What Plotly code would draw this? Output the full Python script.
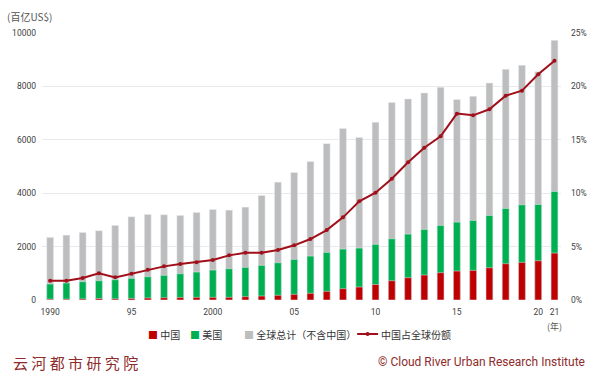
import plotly.graph_objects as go

years = list(range(1990, 2022))
# bar tops (百亿US$)
china = [30, 30, 40, 55, 45, 60, 75, 85, 90, 100,
         100, 100, 125, 150, 175, 212, 250, 324, 424, 486,
         580, 722, 834, 935, 1022, 1085, 1110, 1209, 1359, 1409,
         1471, 1758]
usa_top = [598, 636, 685, 722, 760, 810, 872, 922, 984, 1047,
           1122, 1172, 1222, 1297, 1396, 1521, 1645, 1783, 1907, 1945,
           2083, 2293, 2468, 2643, 2793, 2917, 2979, 3166, 3428, 3565,
           3577, 4065]
global_top = [2345, 2430, 2530, 2593, 2793, 3117, 3204, 3192, 3167, 3279,
              3390, 3366, 3478, 3914, 4413, 4775, 5185, 5855, 6420, 6085,
              6657, 7394, 7529, 7754, 7966, 7505, 7630, 8127, 8639, 8789,
              8552, 9724]
share = [1.81, 1.81, 2.06, 2.50, 2.12, 2.46, 2.84, 3.15, 3.37, 3.53,
         3.75, 4.18, 4.43, 4.43, 4.68, 5.12, 5.71, 6.55, 7.74, 9.24,
         10.05, 11.36, 12.89, 14.26, 15.33, 17.45, 17.29, 17.86, 19.13, 19.60,
         21.13, 22.40]
share = [s / 100 for s in share]

tick_years = [1990, 1995, 2000, 2005, 2010, 2015, 2020, 2021]
tick_text = ["1990", "95", "2000", "05", "10", "15", "20", "21"]
left_ticks = [0, 2000, 4000, 6000, 8000, 10000]
right_ticks = [0, 0.05, 0.10, 0.15, 0.20, 0.25]

num_font = "Roboto, Noto Sans CJK SC"
cjk_font = "Noto Sans CJK SC"
RED = "#C00000"
GREEN = "#00B050"
GRAY = "#BDBDBD"
LINE = "#A00F1A"
BW = 0.42

# plot area in pixels (for placing paper-referenced legend / notes)
L, R, T, B = 40, 562, 33, 300
def px(x):
    return (x - L) / (R - L)
def py(y):
    return (B - y) / (B - T)

fig = go.Figure()
fig.add_trace(go.Bar(x=years, y=global_top, name="全球总计（不含中国）", marker_color=GRAY,
                     width=BW, showlegend=False))
fig.add_trace(go.Bar(x=years, y=usa_top, name="美国", marker_color=GREEN,
                     width=BW, showlegend=False))
fig.add_trace(go.Bar(x=years, y=china, name="中国", marker_color=RED,
                     width=BW, showlegend=False))
fig.add_trace(go.Scatter(x=years, y=share, name="中国占全球份额", yaxis="y2",
                         mode="lines+markers", line=dict(color=LINE, width=2),
                         marker=dict(size=4, color=LINE), showlegend=False))

legend_items = [("中国", RED, 145), ("美国", GREEN, 187), ("全球总计（不含中国）", GRAY, 241)]
annotations = []
for name, col, x0 in legend_items:
    annotations.append(dict(
        text=f"<span style='color:{col}'>■</span> {name}", xref="paper", yref="paper",
        x=px(x0), y=py(334), xanchor="left", yanchor="middle", showarrow=False,
        font=dict(family=cjk_font, size=10, color="#333333")))
annotations.append(dict(
    text="中国占全球份额", xref="paper", yref="paper", x=px(379), y=py(334),
    xanchor="left", yanchor="middle", showarrow=False,
    font=dict(family=cjk_font, size=10, color="#333333")))

annotations += [
    dict(text="(百亿US$)", xref="paper", yref="paper", x=px(3), y=py(16),
         xanchor="left", yanchor="middle", showarrow=False,
         font=dict(family=cjk_font, size=10, color="#555555")),
    dict(text="(年)", xref="x", yref="paper", x=2021, y=py(326), xanchor="center",
         yanchor="middle", showarrow=False,
         font=dict(family=cjk_font, size=9, color="#555555")),
    dict(text="云 河 都 市 研 究 院", xref="paper", yref="paper", x=px(9), y=py(362),
         xanchor="left", yanchor="middle", showarrow=False,
         font=dict(family=cjk_font, size=15, color="#8E2B2B")),
    dict(text="© Cloud River Urban Research Institute", xref="paper", yref="paper",
         x=px(588), y=py(362), xanchor="right", yanchor="middle", showarrow=False,
         font=dict(family=num_font, size=12, color="#8E2B2B")),
]

shapes = [
    dict(type="line", xref="paper", yref="paper", x0=px(357), x1=px(378),
         y0=py(334), y1=py(334), line=dict(color=LINE, width=2)),
    dict(type="circle", xref="paper", yref="paper", x0=px(365.5), x1=px(369.5),
         y0=py(336), y1=py(332), fillcolor=LINE, line=dict(color=LINE, width=0)),
]

fig.update_layout(
    width=599, height=377,
    margin=dict(l=L, r=599 - R, t=T, b=377 - B),
    paper_bgcolor="white", plot_bgcolor="white",
    barmode="overlay",
    showlegend=False,
    xaxis=dict(range=[1989.5, 2021.4], tickmode="array", tickvals=tick_years,
               ticktext=tick_text, showgrid=False, zeroline=False, showline=False,
               ticks="", ticklabelstandoff=5,
               tickfont=dict(family=num_font, size=8.5, color="#404040")),
    yaxis=dict(range=[0, 10000], tickmode="array", tickvals=left_ticks,
               ticktext=[str(v) for v in left_ticks],
               showgrid=True, gridcolor="#E9E9E9", gridwidth=1, zeroline=False,
               ticks="", ticklabelstandoff=5,
               tickfont=dict(family=num_font, size=8.5, color="#404040")),
    yaxis2=dict(range=[0, 0.25], overlaying="y", side="right", tickmode="array",
                tickvals=right_ticks, ticktext=[f"{round(v*100)}%" for v in right_ticks],
                showgrid=False, zeroline=False, ticks="", ticklabelstandoff=9,
                tickfont=dict(family=num_font, size=8.5, color="#404040")),
    annotations=annotations,
    shapes=shapes,
)

fig.write_html("out.html", config={"displayModeBar": False},
               post_script="document.body.style.margin='0px';"
                           "document.body.style.overflow='hidden';")
